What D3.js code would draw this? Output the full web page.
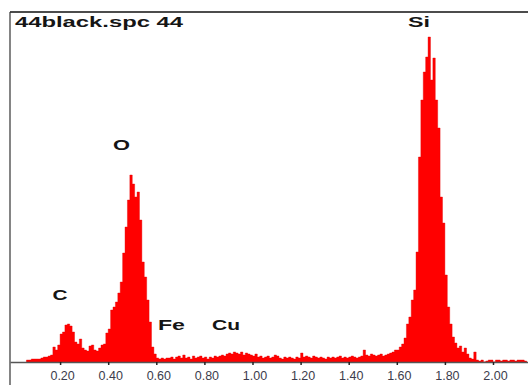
<!DOCTYPE html>
<html>
<head>
<meta charset="utf-8">
<script src="https://cdn.jsdelivr.net/npm/d3@7"></script>
<style>
  html, body { margin: 0; padding: 0; background: #fff; }
  svg { display: block; }
</style>
</head>
<body>
<div id="chart"></div>
<script>
// EDS spectrum, 0.01 keV channels starting at 0.06 keV
const channelStart = 0.06;
const channelWidth = 0.01;
const counts = [
  // 0.06 - 0.15
  2, 2, 3, 3, 3, 3, 4, 5, 5, 6,
  // 0.16 - 0.25 (C)
  7, 15, 12, 17, 28, 30, 37, 38, 36, 30,
  // 0.26 - 0.35
  20, 18, 23, 14, 12, 11, 16, 17, 12, 11,
  // 0.36 - 0.45 (O)
  14, 17, 18, 29, 33, 52, 55, 60, 69, 80,
  // 0.46 - 0.55
  109, 135, 162, 187, 178, 165, 170, 142, 100, 85,
  // 0.56 - 0.65
  62, 40, 15, 8, 4, 3, 4, 3, 4, 4,
  // 0.66 - 0.75 (Fe)
  5, 3, 5, 6, 4, 7, 4, 5, 3, 6,
  // 0.76 - 0.85
  4, 5, 6, 4, 5, 3, 5, 4, 6, 5,
  // 0.86 - 0.95 (Cu)
  6, 7, 6, 8, 9, 8, 10, 9, 8, 10,
  // 0.96 - 1.05
  7, 9, 8, 7, 6, 8, 5, 6, 4, 5,
  // 1.06 - 1.15
  6, 4, 5, 7, 6, 4, 3, 5, 4, 5,
  // 1.16 - 1.25
  4, 3, 5, 4, 9, 5, 6, 5, 4, 6,
  // 1.26 - 1.35
  5, 4, 5, 4, 3, 5, 4, 5, 4, 5,
  // 1.36 - 1.45
  6, 4, 5, 4, 5, 6, 5, 4, 5, 6,
  // 1.46 - 1.55
  12, 7, 6, 8, 7, 6, 7, 8, 6, 7,
  // 1.56 - 1.65 (Si rising)
  8, 9, 10, 12, 12, 15, 18, 24, 38, 45,
  // 1.66 - 1.75
  62, 72, 110, 205, 262, 290, 305, 325, 282, 304,
  // 1.76 - 1.85
  262, 234, 165, 139, 87, 55, 38, 25, 19, 14,
  // 1.86 - 1.95
  16, 10, 14, 8, 4, 3, 10, 2, 1, 2,
  // 1.96 - 2.13
  0, 1, 2, 2, 0, 2, 2, 1, 2, 2, 1, 2, 2, 1, 2, 2, 2, 1
];

const tickValues = [0.2, 0.4, 0.6, 0.8, 1.0, 1.2, 1.4, 1.6, 1.8, 2.0];

const elementNames = ['C', 'O', 'Fe', 'Cu', 'Si'];
const elementEnergies = [0.20, 0.455, 0.663, 0.89, 1.692];
const elementLabelHeights = [62, 212, 32, 32, 335];

const title = '44black.spc 44';

const width = 528;
const height = 385;

const svg = d3.select('#chart')
  .append('svg')
  .attr('width', width)
  .attr('height', height)
  .attr('viewBox', `0 0 ${width} ${height}`);

const x = d3.scaleLinear()
  .domain([-2 / 240.5, 516 / 240.5])
  .range([10, 528]);

const y = d3.scaleLinear()
  .domain([0, 350])
  .range([362, 12]);

const points = counts.map((c, i) => ({ e: channelStart + i * channelWidth, c }));
points.push({ e: channelStart + counts.length * channelWidth, c: counts[counts.length - 1] });

const area = d3.area()
  .x(d => x(d.e))
  .y0(y(0))
  .y1(d => y(d.c))
  .curve(d3.curveStepAfter);

svg.append('path')
  .datum(points)
  .attr('d', area)
  .attr('fill', '#ff0000')
  .attr('stroke', '#e60000')
  .attr('stroke-width', 0.4);

// frame: top and left rules
svg.append('line')
  .attr('x1', 10).attr('x2', 528)
  .attr('y1', 12).attr('y2', 12)
  .attr('stroke', '#111')
  .attr('stroke-width', 1.5);

svg.append('line')
  .attr('x1', 10).attr('x2', 10)
  .attr('y1', 12).attr('y2', 385)
  .attr('stroke', '#333')
  .attr('stroke-width', 1.2);

const xAxis = svg.append('g')
  .attr('transform', `translate(0,${y(0)})`)
  .call(d3.axisBottom(x)
    .tickValues(tickValues)
    .tickFormat(d3.format('.2f'))
    .tickSize(3)
    .tickSizeOuter(0));

xAxis.select('.domain')
  .attr('stroke', '#555')
  .attr('stroke-width', 1.3);

xAxis.selectAll('.tick line')
  .attr('stroke', '#222')
  .attr('stroke-width', 1.5);

xAxis.selectAll('.tick text')
  .attr('dx', 2)
  .attr('y', 9)
  .attr('font-family', 'Liberation Sans, Arial, sans-serif')
  .attr('font-size', 12.5)
  .attr('fill', '#3c3c4c');

svg.append('text')
  .attr('x', 15)
  .attr('y', 27)
  .text(title)
  .attr('font-family', 'Liberation Sans, Arial, sans-serif')
  .attr('font-weight', 'bold')
  .attr('font-size', 15)
  .attr('textLength', 168)
  .attr('lengthAdjust', 'spacingAndGlyphs')
  .attr('fill', '#151515');

const labelWidths = { C: 15, O: 17, Fe: 27, Cu: 28, Si: 22 };

svg.append('g')
  .selectAll('text')
  .data(elementNames)
  .join('text')
  .attr('x', (d, i) => x(elementEnergies[i]) - labelWidths[d] / 2)
  .attr('y', (d, i) => y(elementLabelHeights[i]))
  .text(d => d)
  .attr('font-family', 'Liberation Sans, Arial, sans-serif')
  .attr('font-weight', 'bold')
  .attr('font-size', 15)
  .attr('textLength', d => labelWidths[d])
  .attr('lengthAdjust', 'spacingAndGlyphs')
  .attr('fill', '#151515');
</script>
</body>
</html>
